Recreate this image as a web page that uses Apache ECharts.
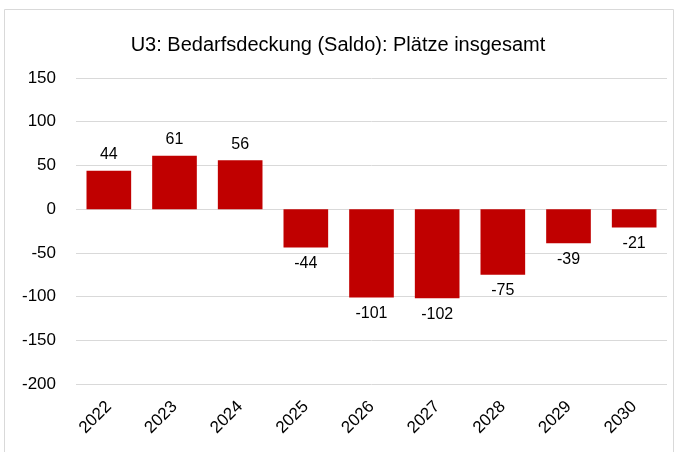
<!DOCTYPE html>
<html>
<head>
<meta charset="utf-8">
<script src="https://cdn.jsdelivr.net/npm/echarts@6/dist/echarts.min.js"></script>
<style>
  html, body { margin: 0; padding: 0; background: #fff; }
  #chart { width: 676px; height: 452px; }
</style>
</head>
<body>
<div id="chart"></div>
<script>
// Werte aus dem Diagramm
const years = ['2022', '2023', '2024', '2025', '2026', '2027', '2028', '2029', '2030'];
const saldo = [44, 61, 56, -44, -101, -102, -75, -39, -21];
const chartTitle = 'U3: Bedarfsdeckung (Saldo): Plätze insgesamt';

const font = 'Liberation Sans, Arial, sans-serif';

let myChart = echarts.init(document.getElementById('chart'));

let option = {
  animation: false,
  textStyle: { fontFamily: font },
  title: {
    text: chartTitle,
    left: 'center',
    top: 30,
    textStyle: { fontFamily: font, fontSize: 20, fontWeight: 'normal', color: '#000' }
  },
  graphic: [{
    type: 'rect',
    shape: { x: 4.5, y: 9.5, width: 669, height: 445 },
    style: { fill: 'none', stroke: '#d9d9d9', lineWidth: 1 },
    silent: true
  }],
  grid: { left: 76, right: 9, top: 78, bottom: 68, containLabel: false },
  xAxis: {
    type: 'category',
    data: years,
    axisLine: { show: false },
    axisTick: { show: false },
    axisLabel: {
      rotate: 45,
      color: '#000',
      fontSize: 17,
      fontFamily: font,
      margin: 20
    }
  },
  yAxis: {
    type: 'value',
    min: -200,
    max: 150,
    interval: 50,
    axisLine: { show: false },
    axisTick: { show: false },
    axisLabel: { color: '#000', fontSize: 17, fontFamily: font, margin: 20 },
    splitLine: { lineStyle: { color: '#d9d9d9', width: 1 } }
  },
  series: [{
    type: 'bar',
    barWidth: '68%',
    itemStyle: { color: '#c00000' },
    label: {
      show: true,
      color: '#000',
      fontSize: 16,
      fontFamily: font,
      distance: 8
    },
    // negative Werte unterhalb der Balken beschriften
    data: saldo.map(v => ({
      value: v,
      label: { position: v < 0 ? 'bottom' : 'top' }
    }))
  }]
};

myChart.setOption(option);
</script>
</body>
</html>
